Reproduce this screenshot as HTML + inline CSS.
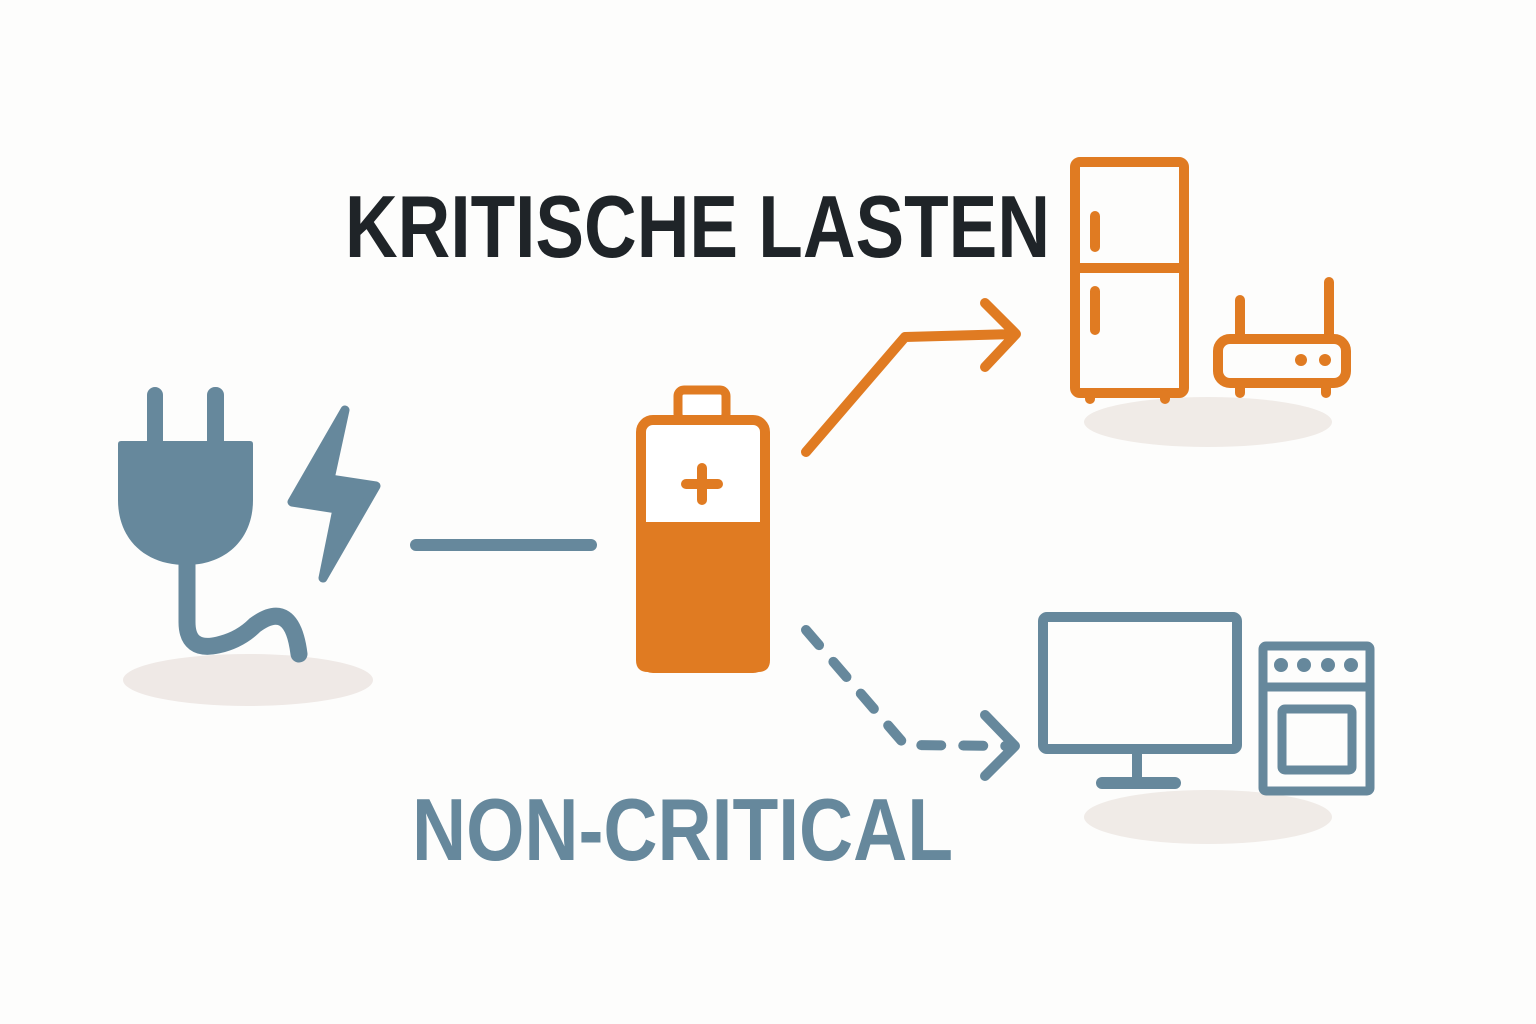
<!DOCTYPE html>
<html><head><meta charset="utf-8"><style>
html,body{margin:0;padding:0;background:#fdfdfc;}
svg{display:block;}
</style></head><body>
<svg width="1536" height="1024" viewBox="0 0 1536 1024" xmlns="http://www.w3.org/2000/svg">
<rect width="1536" height="1024" fill="#fdfdfc"/>
<ellipse cx="248" cy="680" rx="125" ry="26" fill="#efe9e6"/>
<ellipse cx="1208" cy="422" rx="124" ry="25" fill="#f0ebe7"/>
<ellipse cx="1208" cy="817" rx="124" ry="27" fill="#f0ebe7"/>
<text x="345" y="257" font-family="Liberation Sans, sans-serif" font-weight="bold" font-size="88" fill="#1f2428" textLength="705" lengthAdjust="spacingAndGlyphs">KRITISCHE LASTEN</text>
<text x="412" y="860" font-family="Liberation Sans, sans-serif" font-weight="bold" font-size="88" fill="#66889c" textLength="541" lengthAdjust="spacingAndGlyphs">NON-CRITICAL</text>
<g fill="#66889c" stroke="none">
<rect x="147" y="387" width="16" height="62" rx="8"/>
<rect x="207" y="387" width="17" height="62" rx="8"/>
<path d="M118 444 Q118 441 121 441 L250 441 Q253 441 253 444 L253 500 C253 540 225 565 186 565 C146 565 118 540 118 500 Z"/>
<polygon points="345,410 292,502 337,509 323,578 376,486 330,479" stroke="#66889c" stroke-width="9" stroke-linejoin="round"/>
</g>
<path d="M187 560 L187 622 Q187 652 218 645 Q240 640 255 625 Q292 598 299 654" fill="none" stroke="#66889c" stroke-width="17" stroke-linecap="round"/>
<line x1="416" y1="545" x2="591" y2="545" stroke="#66889c" stroke-width="12" stroke-linecap="round"/>
<rect x="678" y="390" width="48" height="30" rx="6" fill="#fff" stroke="#e07b22" stroke-width="9"/>
<rect x="641" y="420" width="124" height="248" rx="12" fill="#fff" stroke="#e07b22" stroke-width="10"/>
<path d="M636 522 L770 522 L770 660 Q770 672 758 672 L648 672 Q636 672 636 660 Z" fill="#e07b22"/>
<path d="M702 468 L702 500 M686 484 L718 484" stroke="#e07b22" stroke-width="10" stroke-linecap="round"/>
<path d="M806 452 L905 337 L1015 334 M985 303 L1016 334 L985 367" fill="none" stroke="#e07b22" stroke-width="10" stroke-linecap="round" stroke-linejoin="round"/>
<path d="M806 630 L905 745 L1010 746" fill="none" stroke="#66889c" stroke-width="10" stroke-linecap="round" stroke-dasharray="20 22"/>
<path d="M985 715 L1015 746 L985 776" fill="none" stroke="#66889c" stroke-width="10" stroke-linecap="round" stroke-linejoin="round"/>
<g fill="none" stroke="#e07b22" stroke-width="10" stroke-linecap="round">
<rect x="1075" y="162" width="109" height="231" rx="5"/>
<line x1="1075" y1="268" x2="1184" y2="268"/>
<line x1="1095" y1="216" x2="1095" y2="247"/>
<line x1="1095" y1="291" x2="1095" y2="330"/>
<line x1="1090" y1="395" x2="1090" y2="399"/>
<line x1="1165" y1="395" x2="1165" y2="399"/>
<rect x="1218" y="339" width="128" height="44" rx="12"/>
<line x1="1240" y1="300" x2="1240" y2="337"/>
<line x1="1329" y1="282" x2="1329" y2="337"/>
<line x1="1240" y1="385" x2="1240" y2="393"/>
<line x1="1326" y1="385" x2="1326" y2="393"/>
</g>
<circle cx="1301" cy="360" r="6" fill="#e07b22"/>
<circle cx="1325" cy="360" r="6" fill="#e07b22"/>
<g fill="none" stroke="#66889c" stroke-width="10" stroke-linecap="round">
<rect x="1043" y="617" width="194" height="132" rx="4"/>
<line x1="1137" y1="752" x2="1137" y2="778"/>
<line x1="1102" y1="783" x2="1175" y2="783" stroke-width="12"/>
<rect x="1263" y="646" width="107" height="145" rx="3" stroke-width="9"/>
<line x1="1263" y1="687" x2="1370" y2="687" stroke-width="9"/>
<rect x="1282" y="709" width="70" height="61" rx="3" stroke-width="9"/>
</g>
<g fill="#66889c">
<circle cx="1281" cy="665" r="7"/><circle cx="1304" cy="665" r="7"/>
<circle cx="1328" cy="665" r="7"/><circle cx="1351" cy="665" r="7"/>
</g>
</svg>
</body></html>
